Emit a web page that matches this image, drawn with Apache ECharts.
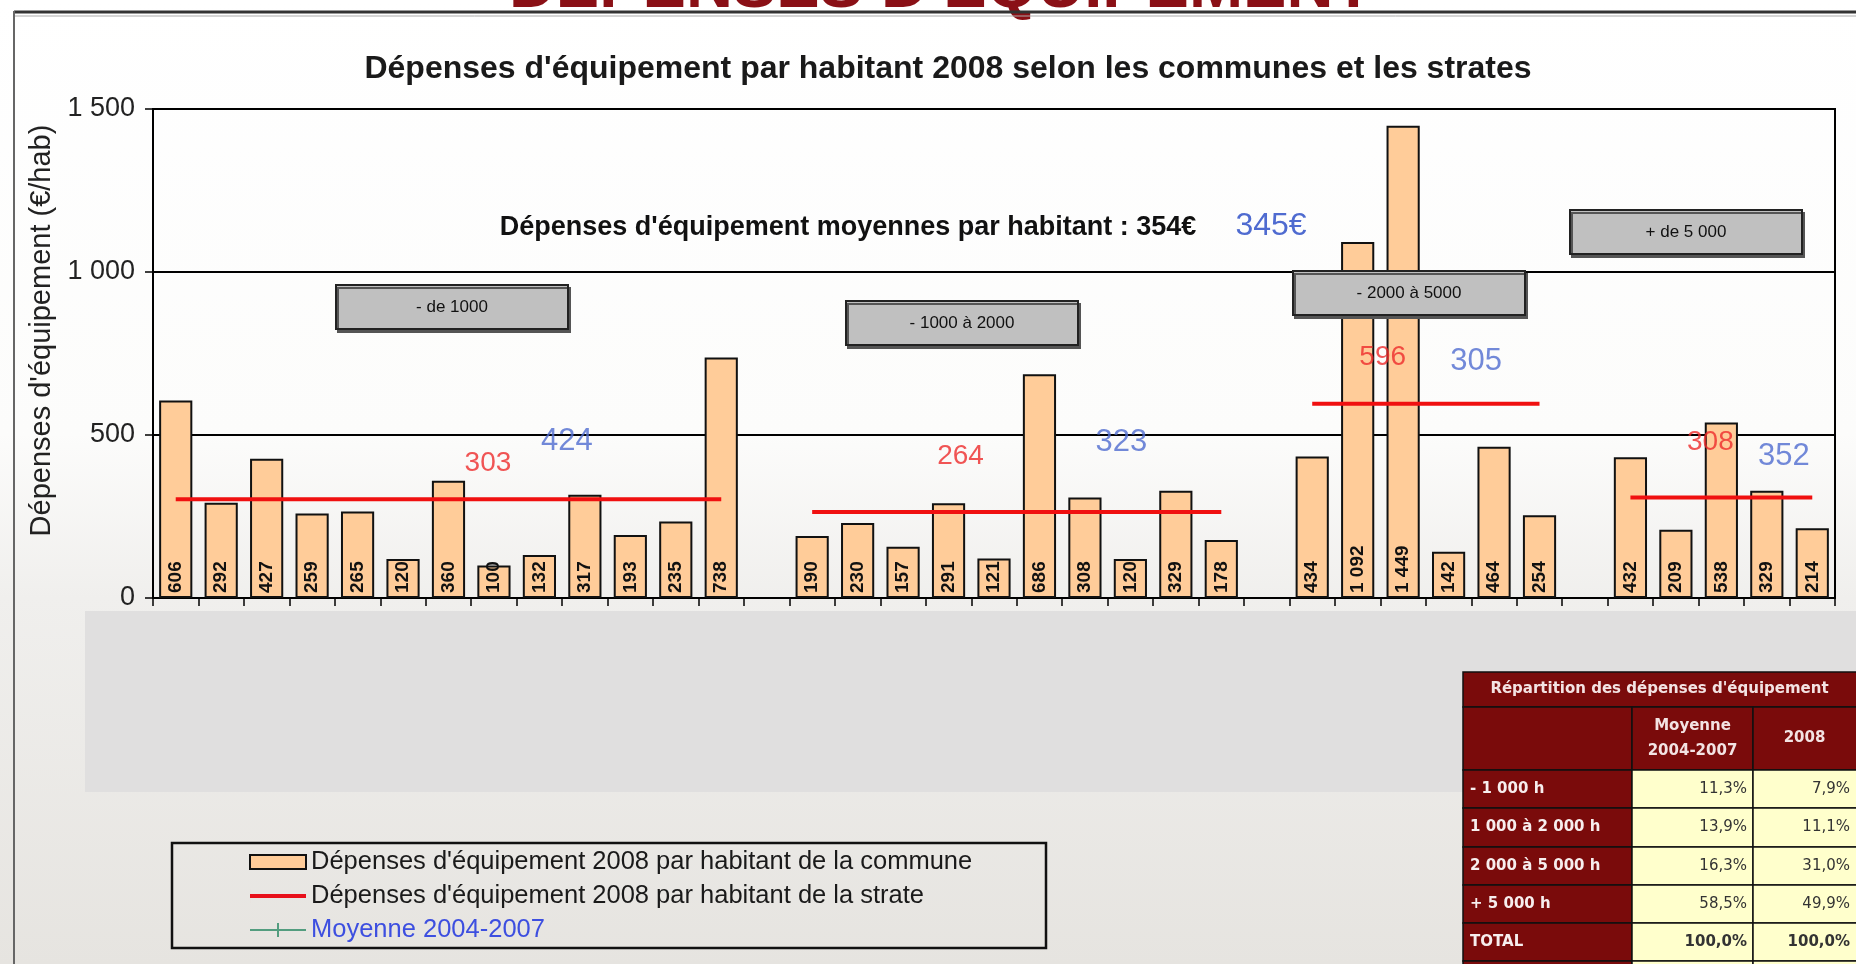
<!DOCTYPE html>
<html>
<head>
<meta charset="utf-8">
<title>Dépenses d'équipement par habitant 2008</title>
<script src="https://cdn.jsdelivr.net/npm/echarts@6/dist/echarts.min.js"></script>
<style>
html, body { margin: 0; padding: 0; }
#main { width: 1856px; height: 964px; }
</style>
</head>
<body>
<div id="main"></div>
<script>
// valeurs
var strates = ['- de 1000', '- 1000 à 2000', '- 2000 à 5000', '+ de 5 000'];
var communesStrate1 = [606, 292, 427, 259, 265, 120, 360, 100, 132, 317, 193, 235, 738];
var communesStrate2 = [190, 230, 157, 291, 121, 686, 308, 120, 329, 178];
var communesStrate3 = [434, 1092, 1449, 142, 464, 254];
var communesStrate4 = [432, 209, 538, 329, 214];
var moyenneStrate2008 = [303, 264, 596, 308];
var moyenne2004_2007 = [424, 323, 305, 352];
var moyenneGenerale2008 = 354;
var moyenneGenerale0407 = 345;
var yTicks = [0, 500, 1000, 1500];

// tableau de répartition
var tableLignes = ['- 1 000 h', '1 000 à 2 000 h', '2 000 à 5 000 h', '+ 5 000 h', 'TOTAL'];
var repartition0407 = [11.3, 13.9, 16.3, 58.5, 100.0];
var repartition2008 = [7.9, 11.1, 31.0, 49.9, 100.0];

var police = '"Liberation Sans", Arial, sans-serif';
var nomCommune = "Dépenses d'équipement 2008 par habitant de la commune";
var nomStrate = "Dépenses d'équipement 2008 par habitant de la strate";
var nomMoyenne = 'Moyenne 2004-2007';

function milliers(v) {
    return String(v).replace(/\B(?=(\d{3})+(?!\d))/g, ' ');
}
function pourcent(v) {
    return v.toFixed(1).replace('.', ',') + '%';
}

// catégories : une case vide entre chaque strate
var groupes = [communesStrate1, communesStrate2, communesStrate3, communesStrate4];
var categories = [], barData = [], strateData = [], debutGroupe = [];
groupes.forEach(function (g, gi) {
    if (gi > 0) {
        categories.push('sep' + gi);
        barData.push('-');
        strateData.push('-');
    }
    debutGroupe.push(categories.length);
    g.forEach(function (v, i) {
        categories.push(strates[gi] + ' #' + (i + 1));
        barData.push(v);
        strateData.push(moyenneStrate2008[gi]);
    });
});

// placement des étiquettes (rang dans la strate + décalage en px)
var etiqStrate = [[7, -6, -36], [3, 12, -56], [1, 25, -46], [2, -11, -55]];
var etiqMoyenne = [[9, -18, -18], [7, -9, -50], [4, -18, -137], [3, 17, -27]];

var strateLabels = moyenneStrate2008.map(function (v, gi) {
    var e = etiqStrate[gi];
    return { value: [debutGroupe[gi] + e[0], v], label: { offset: [e[1], e[2]] } };
});
var moyenneLabels = moyenne2004_2007.map(function (v, gi) {
    var e = etiqMoyenne[gi];
    return { value: [debutGroupe[gi] + e[0], v], label: { offset: [e[1], e[2]] } };
});

// décor : cadre, titre rouge, bandeau gris, encadrés
var decor = [];
decor.push({ type: 'rect', z: -10, shape: { x: 85, y: 611, width: 1771, height: 181 }, style: { fill: '#e0dfdf' } });
decor.push({ type: 'text', x: 941, y: -11, z: 5, style: { text: "DÉPENSES D'ÉQUIPEMENT", fill: '#8a1016', font: 'bold 65px ' + police, textAlign: 'center', textVerticalAlign: 'middle' } });
decor.push({ type: 'line', z: 5, shape: { x1: 14, y1: 12, x2: 1856, y2: 12 }, style: { stroke: '#333', lineWidth: 3 } });
decor.push({ type: 'line', z: 5, shape: { x1: 14, y1: 16, x2: 1856, y2: 16 }, style: { stroke: '#aaa', lineWidth: 1 } });
decor.push({ type: 'line', z: 5, shape: { x1: 14, y1: 11, x2: 14, y2: 964 }, style: { stroke: '#666', lineWidth: 2 } });

decor.push({ type: 'text', x: 848, y: 228, z: 5, style: { text: "Dépenses d'équipement moyennes par habitant : " + moyenneGenerale2008 + '€', fill: '#111', font: 'bold 27px ' + police, textAlign: 'center', textVerticalAlign: 'middle' } });
decor.push({ type: 'text', x: 1271, y: 226, z: 5, style: { text: moyenneGenerale0407 + '€', fill: '#4f6bd0', font: '32px ' + police, textAlign: 'center', textVerticalAlign: 'middle' } });

var boites = [[336, 285], [846, 301], [1293, 271], [1570, 210]];
strates.forEach(function (s, i) {
    var b = boites[i];
    decor.push({ type: 'rect', z: 100, shape: { x: b[0], y: b[1], width: 232, height: 44 },
        style: { fill: '#c0c0c0', stroke: '#222', lineWidth: 2, shadowColor: '#555', shadowOffsetX: 2, shadowOffsetY: 3 } });
    decor.push({ type: 'text', z: 101, x: b[0] + 116, y: b[1] + 22,
        style: { text: s, fill: '#111', font: '17px ' + police, textAlign: 'center', textVerticalAlign: 'middle' } });
});

// cadre de la légende
decor.push({ type: 'rect', z: 5, shape: { x: 172, y: 843, width: 874, height: 105 }, style: { fill: 'none', stroke: '#111', lineWidth: 2.5 } });

// tableau
var tabX = [1463, 1632, 1753, 1860];
var tabY = [672, 707, 770, 808, 847, 885, 923, 961, 999];
var rouge = '#7a0b0b', jaune = '#ffffcc', policeTab = '"DejaVu Sans", sans-serif';
function cellule(x0, y0, x1, y1, fill) {
    decor.push({ type: 'rect', z: 20, shape: { x: x0, y: y0, width: x1 - x0, height: y1 - y0 }, style: { fill: fill, stroke: '#111', lineWidth: 1.5 } });
}
function texte(x, y, t, fill, font, align) {
    decor.push({ type: 'text', z: 21, x: x, y: y, style: { text: t, fill: fill, font: font, textAlign: align, textVerticalAlign: 'middle' } });
}
cellule(tabX[0], tabY[0], tabX[3], tabY[1], rouge);
texte((tabX[0] + 1856) / 2, (tabY[0] + tabY[1]) / 2, "Répartition des dépenses d'équipement", '#f3e3e3', 'bold 15px ' + policeTab, 'center');
cellule(tabX[0], tabY[1], tabX[1], tabY[2], rouge);
cellule(tabX[1], tabY[1], tabX[2], tabY[2], rouge);
cellule(tabX[2], tabY[1], tabX[3], tabY[2], rouge);
texte((tabX[1] + tabX[2]) / 2, tabY[1] + 19, 'Moyenne', '#f3e3e3', 'bold 15px ' + policeTab, 'center');
texte((tabX[1] + tabX[2]) / 2, tabY[1] + 44, '2004-2007', '#f3e3e3', 'bold 15px ' + policeTab, 'center');
texte((tabX[2] + 1856) / 2, (tabY[1] + tabY[2]) / 2, '2008', '#f3e3e3', 'bold 15px ' + policeTab, 'center');
tableLignes.forEach(function (l, i) {
    var y0 = tabY[i + 2], y1 = tabY[i + 3], ym = (y0 + y1) / 2;
    cellule(tabX[0], y0, tabX[1], y1, rouge);
    cellule(tabX[1], y0, tabX[2], y1, jaune);
    cellule(tabX[2], y0, tabX[3], y1, jaune);
    texte(tabX[0] + 7, ym, l, '#f7eeee', 'bold 15px ' + policeTab, 'left');
    var gras = i === tableLignes.length - 1 ? 'bold ' : '';
    texte(tabX[2] - 6, ym, pourcent(repartition0407[i]), '#333', gras + '15px ' + policeTab, 'right');
    texte(1856 - 6, ym, pourcent(repartition2008[i]), '#333', gras + '15px ' + policeTab, 'right');
});
cellule(tabX[0], tabY[7], tabX[1], tabY[8], rouge);
cellule(tabX[1], tabY[7], tabX[2], tabY[8], jaune);
cellule(tabX[2], tabY[7], tabX[3], tabY[8], jaune);

var chart = echarts.init(document.getElementById('main'));

var option = {
    backgroundColor: new echarts.graphic.LinearGradient(0, 0, 0, 1, [
        { offset: 0, color: '#ffffff' },
        { offset: 0.45, color: '#fcfcfb' },
        { offset: 0.62, color: '#f0efed' },
        { offset: 1, color: '#e6e4e0' }
    ]),
    animation: false,
    textStyle: { fontFamily: police },
    title: {
        text: "Dépenses d'équipement par habitant 2008 selon les communes et les strates",
        left: 943,
        textAlign: 'center',
        top: 48,
        textStyle: { fontSize: 32, fontWeight: 'bold', color: '#1a1a1a', fontFamily: police }
    },
    legend: {
        orient: 'vertical',
        left: 249,
        top: 849,
        padding: 0,
        itemGap: 8,
        itemWidth: 56,
        itemHeight: 14,
        textStyle: { fontSize: 25.5, color: '#1a1a1a', fontFamily: police },
        data: [
            { name: nomCommune, icon: 'rect' },
            { name: nomStrate, icon: 'path://M0,0h0.01v14h-0.01z M0,5h56v4h-56z', itemStyle: { color: '#e8101a', borderWidth: 0 } },
            { name: nomMoyenne, icon: 'path://M0,6h56v2h-56z M27,0h2v14h-2z', itemStyle: { color: '#2e8b67', borderWidth: 0 }, textStyle: { color: '#3d4fe0' } }
        ]
    },
    grid: {
        left: 153,
        right: 21,
        top: 109,
        bottom: 366,
        containLabel: false,
        outerBoundsMode: 'none',
        show: true,
        borderColor: '#000',
        borderWidth: 2,
        backgroundColor: 'transparent'
    },
    xAxis: {
        type: 'category',
        data: categories,
        boundaryGap: true,
        axisLine: { show: true, lineStyle: { color: '#000', width: 2 } },
        axisTick: { show: true, interval: 0, inside: false, length: 8, lineStyle: { color: '#000', width: 1.5 } },
        axisLabel: { show: false, interval: 0 },
        splitLine: { show: false }
    },
    yAxis: {
        type: 'value',
        min: yTicks[0],
        max: yTicks[yTicks.length - 1],
        interval: yTicks[1] - yTicks[0],
        name: "Dépenses d'équipement (€/hab)",
        nameLocation: 'middle',
        nameGap: 86,
        nameTextStyle: { fontSize: 29, color: '#222', padding: [0, 0, 0, 46] },
        axisLine: { show: true, lineStyle: { color: '#000', width: 2 } },
        axisTick: { show: true, inside: false, length: 8, lineStyle: { color: '#000', width: 1.5 } },
        axisLabel: { fontSize: 27, color: '#222', margin: 18, formatter: milliers },
        splitLine: { show: true, lineStyle: { color: '#000', width: 2 } }
    },
    series: [
        {
            name: nomCommune,
            type: 'bar',
            data: barData,
            barCategoryGap: '27%',
            itemStyle: { color: '#ffcc99', borderColor: '#111', borderWidth: 2 },
            label: {
                show: true,
                position: 'insideBottom',
                rotate: 90,
                align: 'left',
                verticalAlign: 'middle',
                distance: 5,
                fontSize: 19,
                fontWeight: 'bold',
                color: '#111',
                formatter: function (p) { return milliers(p.value); }
            }
        },
        {
            name: nomStrate,
            type: 'line',
            data: strateData,
            connectNulls: false,
            symbol: 'none',
            z: 5,
            itemStyle: { color: '#e8101a' },
            lineStyle: { color: '#f01010', width: 4 }
        },
        {
            name: 'etiquettes strate',
            type: 'scatter',
            data: strateLabels,
            symbolSize: 0,
            z: 6,
            itemStyle: { color: '#e8101a' },
            label: { show: true, position: 'inside', fontSize: 28, color: '#ee2a2a', formatter: function (p) { return p.value[1]; } }
        },
        {
            name: nomMoyenne,
            type: 'scatter',
            data: moyenneLabels,
            symbolSize: 0,
            z: 6,
            itemStyle: { color: '#2e8b67' },
            label: { show: true, position: 'inside', fontSize: 31, color: '#4f6bd0', formatter: function (p) { return p.value[1]; } }
        }
    ],
    graphic: { elements: decor }
};

chart.setOption(option);
</script>
</body>
</html>
